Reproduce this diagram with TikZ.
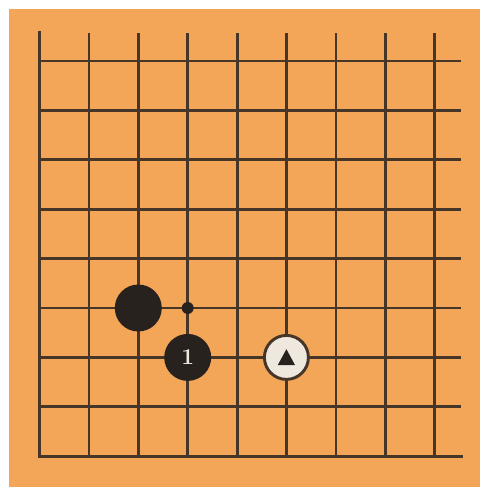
\documentclass[tikz,border=0pt]{standalone}
\begin{document}
\begin{tikzpicture}[x=0.75pt,y=-0.75pt,
  gridline/.style={draw=linec, line width=2.1pt},
  edgeline/.style={draw=linec, line width=2.8pt},
  blackstone/.style={circle, fill=stonec, draw=none, minimum size=47*0.75pt, inner sep=0pt},
  whitestone/.style={circle, fill=whitec, draw=linec, line width=2.2pt, minimum size=44*0.75pt, inner sep=0pt},
  dotmark/.style={circle, fill=stonec, minimum size=12*0.75pt, inner sep=0pt}]
\definecolor{boardc}{RGB}{244,166,88}
\definecolor{linec}{RGB}{70,54,40}
\definecolor{stonec}{RGB}{40,34,30}
\definecolor{whitec}{RGB}{238,232,222}
\useasboundingbox (0,0) rectangle (480,487);
\fill[white] (0,0) rectangle (480,487);
\fill[boardc] (9,9) rectangle (480,487);
% vertical lines
\foreach \i in {1,...,8} {
  \draw[gridline] ({39.5+49.4*\i},33) -- ({39.5+49.4*\i},456.5);
}
% horizontal lines
\foreach \j in {0,...,7} {
  \draw[gridline] (39.5,{61+49.4*\j}) -- (461,{61+49.4*\j});
}
\draw[edgeline, line cap=rect] (39.5,33) -- (39.5,456.5) -- (461,456.5);
% stones
\node[blackstone] (b1) at (138.3,308) {};
\node[dotmark] (d1) at (187.7,308) {};
\node[blackstone] (b2) at (187.7,357.4) {\color{whitec}\bfseries\fontsize{17}{17}\selectfont 1};
\node[whitestone] (w1) at (286.4,357.4) {};
\fill[stonec] (286.4,349.2) -- (295,365) -- (277.8,365) -- cycle;
\end{tikzpicture}
\end{document}
